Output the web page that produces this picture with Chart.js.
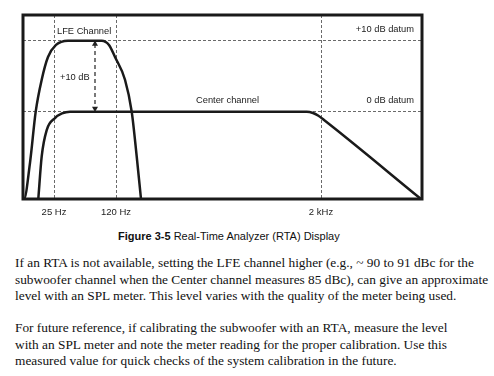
<!DOCTYPE html>
<html>
<head>
<meta charset="utf-8">
<script src="https://cdn.jsdelivr.net/npm/chart.js@4/dist/chart.umd.min.js"></script>
<style>
  body { margin: 0; background: #fff; width: 494px; height: 376px; overflow: hidden; position: relative; }
  #wrap { position: absolute; left: 0; top: 0; width: 494px; height: 225px; }
  .caption { position: absolute; left: 118px; top: 230px; font: 11px "Liberation Sans", Arial, sans-serif; color: #111; white-space: nowrap; }
  .para { position: absolute; left: 15px; font: 13.35px "Liberation Serif", "Times New Roman", serif; line-height: 16.5px; color: #111; white-space: nowrap; }
</style>
</head>
<body>
<div id="wrap"><canvas id="rta" width="494" height="225"></canvas></div>
<div class="caption"><b>Figure 3-5</b> Real-Time Analyzer (RTA) Display</div>
<div class="para" style="top:255px">If an RTA is not available, setting the LFE channel higher (e.g., ~ 90 to 91 dBc for the<br>subwoofer channel when the Center channel measures 85 dBc), can give an approximate<br>level with an SPL meter. This level varies with the quality of the meter being used.</div>
<div class="para" style="top:320px">For future reference, if calibrating the subwoofer with an RTA, measure the level<br>with an SPL meter and note the meter reading for the proper calibration. Use this<br>measured value for quick checks of the system calibration in the future.</div>
<script>
document.addEventListener('DOMContentLoaded', () => {
    // Schematic x position (not a true log scale) and level in dB
    const lfeX = [0, 1, 7, 12.7, 18.7, 25, 33, 45, 78.7, 86, 92, 102, 108.7, 113.7, 118];
    const lfeY = [-12.3, -12.3, -7.2, 0, 4.5, 7.7, 9.4, 10, 10, 9.4, 7.7, 4.5, 0, -6.3, -12.3];

    const centerX = [15.3, 18.7, 23.7, 32, 39, 47, 283.7, 290, 295, 301, 398];
    const centerY = [-12.3, -6.3, -2.6, -0.9, -0.25, 0, 0, -0.18, -0.54, -1.17, -12.3];

    // +10 dB arrow between datums
    const arrowX = [72, 72];
    const arrowY = [9.55, 0.45];

    // Frequency marks
    const tickPos = [31, 93, 298];
    const tickLabels = ['25 Hz', '120 Hz', '2 kHz'];
    const datumLevels = [0, 10];

    // Text in the plot: x, y, label, alignment
    const notes = [
        [34, 11.37, 'LFE Channel', 'left'],
        [37, 4.89, '+10 dB', 'left'],
        [173, 1.52, 'Center channel', 'left'],
        [391, 11.65, '+10 dB datum', 'right'],
        [391, 1.65, '0 dB datum', 'right']
    ];

    const toPts = (xs, ys) => xs.map((x, i) => ({ x: x, y: ys[i] }));
    const ink = '#1a1a1a';
    const gridStyle = {
        color: '#6a6a6a',
        lineWidth: 1,
        drawTicks: false
    };

    const framePlugin = {
        id: 'frame',
        afterDatasetsDraw(chart) {
            const a = chart.chartArea;
            const ctx = chart.ctx;
            ctx.save();
            ctx.strokeStyle = ink;
            ctx.lineWidth = 3;
            ctx.strokeRect(a.left, a.top, a.right - a.left, a.bottom - a.top);
            ctx.restore();
        },
        afterDraw(chart) {
            const ctx = chart.ctx;
            const xs = chart.scales.x, ys = chart.scales.y;
            ctx.save();
            ctx.fillStyle = '#222';
            ctx.font = '9.3px "Liberation Sans", Arial, sans-serif';
            ctx.textBaseline = 'middle';
            notes.forEach(n => {
                ctx.textAlign = n[3];
                ctx.fillText(n[2], xs.getPixelForValue(n[0]), ys.getPixelForValue(n[1]));
            });
            ctx.restore();
        }
    };

    const config = {
        type: 'line',
        data: {
            datasets: [
                { // LFE channel
                    data: toPts(lfeX, lfeY),
                    borderColor: ink,
                    borderWidth: 2.5,
                    pointRadius: 0,
                    cubicInterpolationMode: 'monotone',
                    fill: false
                },
                { // Center channel
                    data: toPts(centerX, centerY),
                    borderColor: ink,
                    borderWidth: 2.5,
                    pointRadius: 0,
                    cubicInterpolationMode: 'monotone',
                    fill: false
                },
                { // +10 dB arrow
                    data: toPts(arrowX, arrowY),
                    borderColor: '#222',
                    borderWidth: 1.2,
                    borderDash: [4, 3],
                    pointStyle: 'triangle',
                    pointRotation: [0, 180],
                    pointRadius: 3.5,
                    pointBackgroundColor: '#222',
                    pointBorderColor: '#222',
                    pointBorderWidth: 0,
                    fill: false
                }
            ]
        },
        options: {
            responsive: false,
            animation: false,
            layout: { padding: { left: 23, top: 15, right: 72, bottom: 0 } },
            plugins: {
                legend: { display: false },
                tooltip: { enabled: false }
            },
            scales: {
                x: {
                    type: 'linear',
                    min: 0,
                    max: 399,
                    afterBuildTicks: axis => { axis.ticks = tickPos.map(v => ({ value: v })); },
                    afterFit: axis => { axis.height = 26; },
                    ticks: {
                        color: '#222',
                        padding: 8,
                        maxRotation: 0,
                        font: { family: '"Liberation Sans", Arial, sans-serif', size: 9.5 },
                        callback: (v) => tickLabels[tickPos.indexOf(v)]
                    },
                    grid: gridStyle,
                    border: { display: false, dash: [3, 2] }
                },
                y: {
                    min: -12.3,
                    max: 13.62,
                    afterBuildTicks: axis => { axis.ticks = datumLevels.map(v => ({ value: v })); },
                    afterFit: axis => { axis.width = 0; },
                    ticks: { display: false },
                    grid: gridStyle,
                    border: { display: false, dash: [3, 2] }
                }
            }
        },
        plugins: [framePlugin]
    };

    new Chart(document.getElementById('rta'), config);
});
</script>
</body>
</html>
